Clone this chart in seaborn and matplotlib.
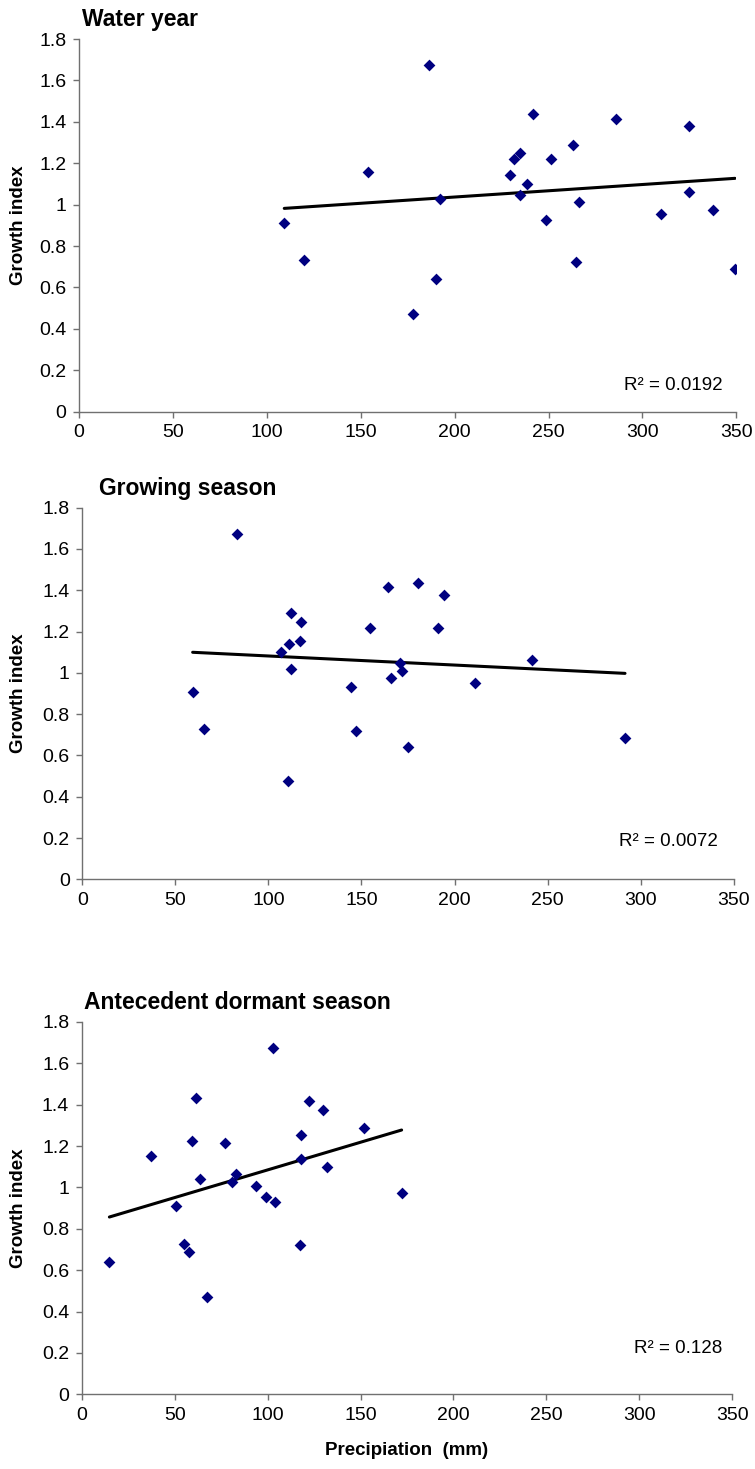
import numpy as np
import pandas as pd
import matplotlib
matplotlib.use("Agg")
import matplotlib.pyplot as plt
import seaborn as sns

# ---- data ----
water_x = [109.3, 120.0, 153.9, 186.2, 241.6, 286.1, 324.6, 263.0, 234.6, 231.6, 251.5, 229.3,
           238.5, 234.8, 192.4, 266.1, 324.6, 310.1, 337.8, 248.5, 177.7, 190.3, 264.8, 349.3]
water_y = [0.913, 0.731, 1.158, 1.673, 1.437, 1.415, 1.382, 1.290, 1.248, 1.221, 1.221, 1.143,
           1.101, 1.047, 1.026, 1.011, 1.061, 0.957, 0.976, 0.928, 0.473, 0.641, 0.725, 0.689]

grow_x = [59.3, 83.1, 112.0, 117.5, 111.2, 116.8, 106.6, 112.0, 154.8, 144.5, 65.4, 110.5,
          147.1, 164.1, 180.4, 194.4, 191.3, 170.9, 171.8, 165.7, 210.9, 241.8, 175.0, 291.6]
grow_y = [0.909, 1.674, 1.289, 1.247, 1.142, 1.155, 1.101, 1.021, 1.218, 0.932, 0.727, 0.475,
          0.720, 1.415, 1.436, 1.379, 1.218, 1.049, 1.008, 0.974, 0.953, 1.064, 0.643, 0.686]

dorm_x = [37.3, 61.3, 59.5, 76.9, 103.1, 122.5, 130.0, 152.0, 117.9, 117.8, 131.8, 63.6,
          83.0, 80.9, 93.8, 99.1, 103.9, 50.6, 172.1, 14.9, 55.0, 57.5, 67.6, 117.3]
dorm_y = [1.154, 1.431, 1.223, 1.215, 1.675, 1.418, 1.376, 1.286, 1.252, 1.139, 1.101, 1.041,
          1.065, 1.025, 1.009, 0.952, 0.931, 0.910, 0.972, 0.638, 0.728, 0.686, 0.470, 0.722]

titles = ["Water year", "Growing season", "Antecedent dormant season"]
r2_labels = ["R\u00b2 = 0.0192", "R\u00b2 = 0.0072", "R\u00b2 = 0.128"]
x_ticks = [0, 50, 100, 150, 200, 250, 300, 350]
y_ticks = [0, 0.2, 0.4, 0.6, 0.8, 1.0, 1.2, 1.4, 1.6, 1.8]
y_tick_labels = ["0", "0.2", "0.4", "0.6", "0.8", "1", "1.2", "1.4", "1.6", "1.8"]
y_label = "Growth index"
x_label = "Precipiation  (mm)"

# ---- style ----
sns.set_style("ticks")
plt.rcParams["font.family"] = ["Liberation Sans", "DejaVu Sans"]
plt.rcParams["text.color"] = "black"
plt.rcParams["axes.labelcolor"] = "black"

W, H = 755, 1469
fig = plt.figure(figsize=(W / 100, H / 100), dpi=100)

# axes rectangles in pixels: left, right, top, bottom
rects_px = [(79.0, 736.3, 39.0, 411.7),
            (82.3, 733.7, 507.7, 879.3),
            (81.7, 732.3, 1022.0, 1394.3)]
title_left = [0.005, 0.026, 0.004]
r2_pos = [(0.979, 0.07), (0.975, 0.101), (0.984, 0.124)]

datasets = [(water_x, water_y), (grow_x, grow_y), (dorm_x, dorm_y)]
spine_col = "#707070"

for i, ((xs, ys), (l, r, t, b)) in enumerate(zip(datasets, rects_px)):
    ax = fig.add_axes([l / W, 1 - b / H, (r - l) / W, (b - t) / H])
    df = pd.DataFrame({"x": xs, "y": ys})
    sns.regplot(data=df, x="x", y="y", ax=ax, ci=None, truncate=True,
                marker="D",
                scatter_kws=dict(color="#000080", s=36, linewidths=0, alpha=1, zorder=3),
                line_kws=dict(color="black", lw=2.2, zorder=2))
    ax.set_xlim(0, 350)
    ax.set_ylim(0, 1.8)
    ax.set_xticks(x_ticks)
    ax.set_xticklabels([str(v) for v in x_ticks])
    ax.set_yticks(y_ticks)
    ax.set_yticklabels(y_tick_labels)
    sns.despine(ax=ax)
    for s in ("left", "bottom"):
        ax.spines[s].set_color(spine_col)
        ax.spines[s].set_linewidth(1.0)
    ax.tick_params(axis="both", direction="out", length=4, width=1.0,
                   color=spine_col, labelsize=14, labelcolor="black", pad=5)
    ax.set_ylabel(y_label, fontsize=13.5, fontweight="bold", color="black")
    ax.yaxis.set_label_coords(-(l - 27) / (r - l), 0.5)
    if i == 2:
        ax.set_xlabel(x_label, fontsize=13.5, fontweight="bold", labelpad=13, color="black")
    else:
        ax.set_xlabel("")
    ax.text(title_left[i], 1 + 13 / (b - t), titles[i], transform=ax.transAxes,
            fontsize=16.5, fontweight="bold", ha="left", va="baseline", color="black")
    ax.text(r2_pos[i][0], r2_pos[i][1], r2_labels[i], transform=ax.transAxes,
            fontsize=13.5, ha="right", va="center", color="black")

fig.savefig("out.png", dpi=100, facecolor="white")
